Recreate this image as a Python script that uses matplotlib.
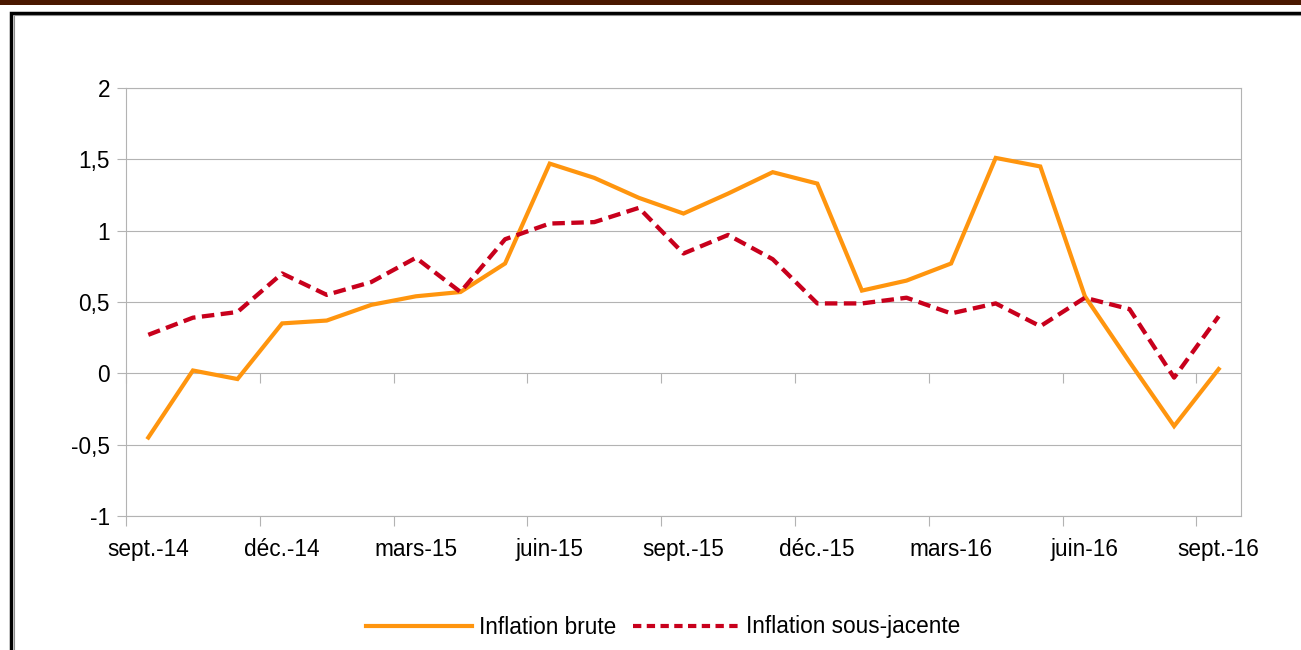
import numpy as np
import matplotlib
matplotlib.use("Agg")
import matplotlib.pyplot as plt
from matplotlib.lines import Line2D
from matplotlib.patches import Rectangle

# Monthly data, sept.-14 to sept.-16
months = [
    "sept.-14", "oct.-14", "nov.-14", "déc.-14", "janv.-15", "févr.-15",
    "mars-15", "avr.-15", "mai-15", "juin-15", "juil.-15", "août-15",
    "sept.-15", "oct.-15", "nov.-15", "déc.-15", "janv.-16", "févr.-16",
    "mars-16", "avr.-16", "mai-16", "juin-16", "juil.-16", "août-16",
    "sept.-16",
]
inflation_brute = [
    -0.45, 0.02, -0.04, 0.35, 0.37, 0.48, 0.54, 0.57, 0.77, 1.47, 1.37, 1.23,
    1.12, 1.26, 1.41, 1.33, 0.58, 0.65, 0.77, 1.51, 1.45, 0.54, 0.08, -0.37,
    0.03,
]
inflation_sous_jacente = [
    0.27, 0.39, 0.43, 0.70, 0.55, 0.64, 0.81, 0.57, 0.94, 1.05, 1.06, 1.16,
    0.84, 0.97, 0.80, 0.49, 0.49, 0.53, 0.42, 0.49, 0.33, 0.53, 0.45, -0.03,
    0.40,
]
y_ticks = [-1, -0.5, 0, 0.5, 1, 1.5, 2]
y_labels = ["-1", "-0,5", "0", "0,5", "1", "1,5", "2"]

ORANGE = "#ff950e"
RED = "#c8001c"
GRID = "#b3b3b3"

plt.rcParams["font.family"] = ["Liberation Sans", "DejaVu Sans"]

fig = plt.figure(figsize=(13.01, 6.5), dpi=100)

# Brown band on top and the black frame around the chart
fig.patches.append(Rectangle((0, 1 - 5 / 650), 1, 5 / 650, transform=fig.transFigure,
                             facecolor="#4a1800", edgecolor="none"))
fig.patches.append(Rectangle((10.5 / 1301, -0.1), 1.1, 1 - 12.5 / 650 + 0.1,
                             transform=fig.transFigure, facecolor="none",
                             edgecolor="black", linewidth=2.5))
fig.patches.append(Rectangle((13.5 / 1301, -0.1), 1.1, 1 - 14.5 / 650 + 0.1,
                             transform=fig.transFigure, facecolor="none",
                             edgecolor="#8c8c8c", linewidth=0.8))

ax = fig.add_axes([126 / 1301, 1 - 516 / 650, (1241 - 126) / 1301, (516 - 88) / 650])

x = np.arange(len(months))
ax.plot(x, inflation_brute, color=ORANGE, linewidth=3.0, solid_joinstyle="miter",
        label="Inflation brute")
ax.plot(x, inflation_sous_jacente, color=RED, linewidth=3.1, dashes=(2.9, 1.5),
        dash_capstyle="butt", label="Inflation sous-jacente")

ax.set_xlim(-0.5, len(months) - 0.5)
ax.set_ylim(-1, 2)

# Y axis with comma decimals
ax.set_yticks(y_ticks)
ax.set_yticklabels(y_labels)
ax.tick_params(axis="y", length=6.5, color=GRID, pad=5, labelsize=16.3)
ax.grid(axis="y", color=GRID, linewidth=0.8)
ax.set_axisbelow(True)

# X axis: tick marks between groups of 3 months, labels on each 3rd month
ax.set_xticks(np.arange(-0.5, len(months) - 1, 3))
ax.set_xticklabels([])
ax.set_xticks(x[::3], minor=True)
ax.set_xticklabels(months[::3], minor=True)
ax.tick_params(axis="x", which="major", length=7.5, color=GRID)
ax.tick_params(axis="x", which="minor", length=0, pad=16, labelsize=16.3)

# Same tick marks along the zero line
zero = ax.secondary_xaxis(1 / 3)
zero.set_xticks(np.arange(-0.5, len(months) - 1, 3))
zero.set_xticklabels([])
zero.tick_params(length=7.5, color=GRID, direction="out")
zero.spines["bottom"].set_visible(False)
zero.spines["top"].set_visible(False)

for s in ax.spines.values():
    s.set_color(GRID)
    s.set_linewidth(0.8)

# Legend below the plot
handles = [
    Line2D([], [], color=ORANGE, linewidth=3.0),
    Line2D([], [], color=RED, linewidth=3.0, dashes=(2.0, 1.3), dash_capstyle="butt"),
]
fig.legend(handles, ["Inflation brute", "Inflation sous-jacente"], loc="center",
           bbox_to_anchor=(663 / 1301, 1 - 627 / 650), ncol=2, frameon=False,
           fontsize=16.3, handlelength=4.7, handletextpad=0.3, columnspacing=0.75)

fig.savefig("out.png", dpi=100)
